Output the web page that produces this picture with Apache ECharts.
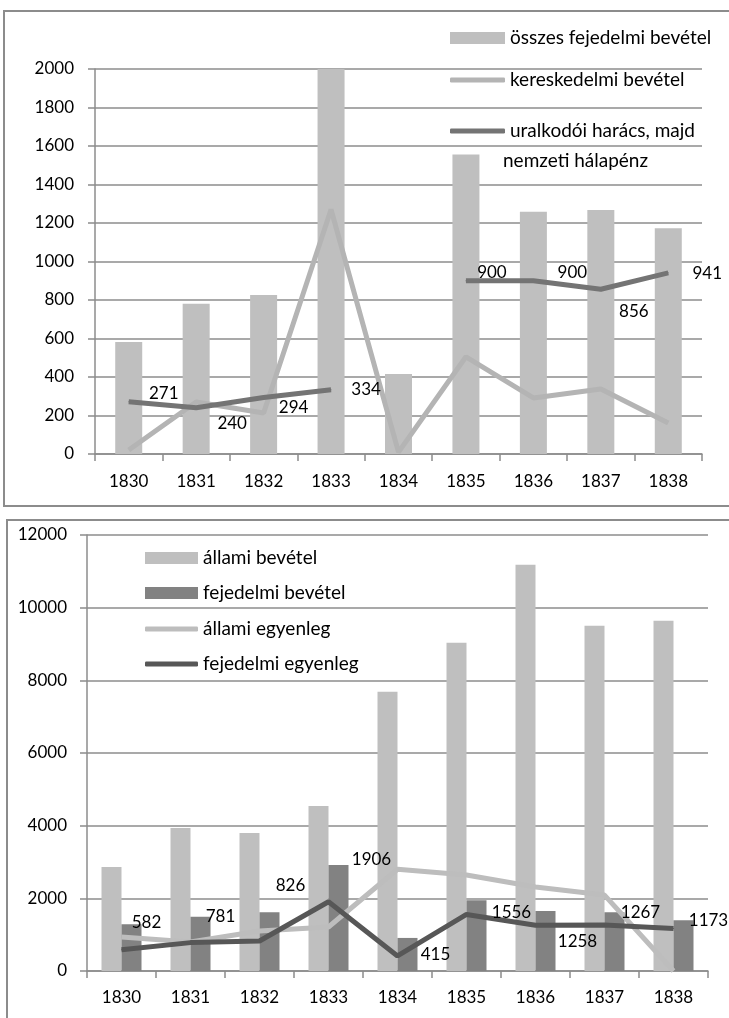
<!DOCTYPE html>
<html lang="hu">
<head>
<meta charset="UTF-8">
<title>Fejedelmi bevételek 1830-1838</title>
<script src="https://cdn.jsdelivr.net/npm/echarts@6/dist/echarts.min.js"></script>
<style>
    html, body { margin: 0; padding: 0; background: #fff; }
    #chart { width: 729px; height: 1018px; }
</style>
</head>
<body>
<div id="chart"></div>
<script>
    var years = ['1830', '1831', '1832', '1833', '1834', '1835', '1836', '1837', '1838'];

    /* felső ábra */
    var osszesFejedelmi = [582, 781, 826, 2000, 415, 1556, 1258, 1267, 1173];
    var kereskedelmi = [21, 270, 213, 1270, 10, 505, 291, 338, 161];
    var haracs = [271, 240, 294, 334, null, 900, 900, 856, 941];

    /* alsó ábra */
    var allamiBevetel = [2860, 3935, 3800, 4540, 7685, 9035, 11180, 9500, 9640];
    var fejedelmiBevetel = [1290, 1490, 1620, 2920, 910, 1950, 1650, 1620, 1400];
    var allamiEgyenleg = [936, 800, 1100, 1210, 2800, 2640, 2310, 2090, 0];
    var fejedelmiEgyenleg = [582, 781, 826, 1906, 415, 1556, 1258, 1267, 1173];

    var topTicks = {min: 0, max: 2000, interval: 200};
    var bottomTicks = {min: 0, max: 12000, interval: 2000};

    // címkék eltolása a pontokhoz képest (px)
    var topLabelShift = [[35, -8], [36, 16], [30, 10], [35, 0], null, [26, -8], [39, -8], [33, 22], [39, 1]];
    var bottomLabelShift = [[25, -27], [30, -26], [31, -55], [43, -42], [38, -1], [45, -2], [42, 16], [36, -12], [35, -8]];

    var FONT = 'Lato';
    var gridColor = '#8c8c8c';

    function withLabels(values, shifts) {
        return values.map(function (v, i) {
            if (v == null) return null;
            return {value: v, label: {offset: shifts[i]}};
        });
    }

    var labelStyle = {
        show: true,
        position: 'inside',
        color: '#000',
        fontFamily: FONT,
        fontSize: 17,
        textBorderWidth: 0
    };

    function catAxis(gridIndex, margin) {
        return {
            type: 'category', gridIndex: gridIndex, data: years,
            axisLine: {lineStyle: {color: gridColor, width: 1.5}},
            axisTick: {show: true, length: 7, alignWithLabel: false, lineStyle: {color: gridColor, width: 1.5}},
            axisLabel: {color: '#000', fontFamily: FONT, fontSize: 17, margin: margin}
        };
    }

    function valAxis(gridIndex, ticks, margin) {
        return {
            type: 'value', gridIndex: gridIndex,
            min: ticks.min, max: ticks.max, interval: ticks.interval,
            axisLine: {show: true, lineStyle: {color: gridColor, width: 1.5}},
            axisTick: {show: true, length: 7, lineStyle: {color: gridColor, width: 1.5}},
            splitLine: {show: true, lineStyle: {color: gridColor, width: 1.5}},
            axisLabel: {
                color: '#000', fontFamily: FONT, fontSize: 17, margin: margin,
                formatter: function (v) { return String(v); }
            }
        };
    }

    var legendText = {color: '#000', fontFamily: FONT, fontSize: 19, lineHeight: 20};

    function legendItem(name, top, left, width, isLine, formatter) {
        var lg = {
            left: left, top: top, itemWidth: width, itemHeight: isLine ? 5 : 12,
            textStyle: legendText,
            data: [{name: name, icon: isLine ? 'roundRect' : 'rect'}]
        };
        if (formatter) lg.formatter = formatter;
        return lg;
    }

    var option = {
        backgroundColor: '#fff',
        animation: false,
        textStyle: {fontFamily: FONT},
        graphic: [
            {type: 'rect', z: -10, shape: {x: 4, y: 11, width: 740, height: 495},
                style: {fill: 'none', stroke: gridColor, lineWidth: 2}},
            {type: 'rect', z: -10, shape: {x: 7, y: 520, width: 740, height: 520},
                style: {fill: 'none', stroke: gridColor, lineWidth: 2}},
            {type: 'text', left: 503, top: 151,
                style: {text: 'nemzeti hálapénz', fill: '#000', font: '19px ' + FONT}}
        ],
        grid: [
            {left: 95, right: 27, top: 69, height: 385},
            {left: 87, right: 21, top: 535, height: 436}
        ],
        legend: [
            legendItem('összes fejedelmi bevétel', 23, 445, 55, false),
            legendItem('kereskedelmi bevétel', 65, 445, 55, true),
            legendItem('uralkodói harács, majd nemzeti hálapénz', 116, 445, 55, true,
                function () { return 'uralkodói harács, majd'; }),
            legendItem('állami bevétel', 543, 140, 53, false),
            legendItem('fejedelmi bevétel', 578, 140, 53, false),
            legendItem('állami egyenleg', 614, 140, 53, true),
            legendItem('fejedelmi egyenleg', 649, 140, 53, true)
        ],
        xAxis: [catAxis(0, 19), catAxis(1, 18)],
        yAxis: [valAxis(0, topTicks, 21), valAxis(1, bottomTicks, 20)],
        series: [
            {
                name: 'összes fejedelmi bevétel', type: 'bar', xAxisIndex: 0, yAxisIndex: 0,
                barWidth: 27, itemStyle: {color: '#bfbfbf'}, data: osszesFejedelmi
            },
            {
                name: 'kereskedelmi bevétel', type: 'line', xAxisIndex: 0, yAxisIndex: 0,
                symbol: 'none', lineStyle: {color: '#b4b4b4', width: 5}, itemStyle: {color: '#b4b4b4'},
                data: kereskedelmi
            },
            {
                name: 'uralkodói harács, majd nemzeti hálapénz', type: 'line', xAxisIndex: 0, yAxisIndex: 0,
                symbol: 'circle', symbolSize: 1, showSymbol: true,
                lineStyle: {color: '#747474', width: 5}, itemStyle: {color: '#747474'},
                label: labelStyle,
                data: withLabels(haracs, topLabelShift)
            },
            {
                name: 'állami bevétel', type: 'bar', xAxisIndex: 1, yAxisIndex: 1,
                barWidth: 20, barGap: '0%', itemStyle: {color: '#bfbfbf'}, data: allamiBevetel
            },
            {
                name: 'fejedelmi bevétel', type: 'bar', xAxisIndex: 1, yAxisIndex: 1,
                barWidth: 20, barGap: '0%', itemStyle: {color: '#828282'}, data: fejedelmiBevetel
            },
            {
                name: 'állami egyenleg', type: 'line', xAxisIndex: 1, yAxisIndex: 1,
                symbol: 'none', lineStyle: {color: '#bdbdbd', width: 5}, itemStyle: {color: '#bdbdbd'},
                data: allamiEgyenleg
            },
            {
                name: 'fejedelmi egyenleg', type: 'line', xAxisIndex: 1, yAxisIndex: 1,
                symbol: 'circle', symbolSize: 1, showSymbol: true,
                lineStyle: {color: '#575757', width: 5}, itemStyle: {color: '#575757'},
                label: labelStyle,
                data: withLabels(fejedelmiEgyenleg, bottomLabelShift)
            }
        ]
    };

    var myChart = echarts.init(document.getElementById('chart'));
    myChart.setOption(option);
</script>
</body>
</html>
